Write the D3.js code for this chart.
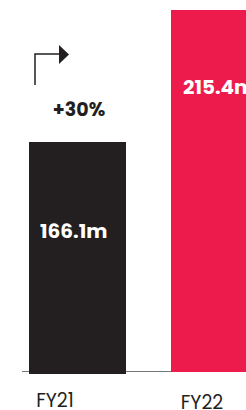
<!DOCTYPE html>
<html>
<head>
<meta charset="utf-8">
<script src="https://cdn.jsdelivr.net/npm/d3@7"></script>
<style>
  html, body { margin: 0; padding: 0; background: #fff; }
  svg { display: block; }
</style>
</head>
<body>
<script>
'use strict';

// data
const years = ["FY21", "FY22"];
const revenue = [166.1, 215.4];
const valueLabels = ["166.1m", "215.4m"];
const growthLabel = "+30%";
const barColors = ["#231f20", "#ec1b4b"];

const width = 246, height = 410;
const baseY = 372;

const svg = d3.select("body").append("svg")
    .attr("width", width)
    .attr("height", height);

// bars are not drawn from zero in the original, baseline sits around 80
const yScale = d3.scaleLinear()
    .domain([80.2, 215.4])
    .range([baseY, 10]);

const xScale = d3.scaleOrdinal()
    .domain(years)
    .range([29, 171]);

const barWidth = 97;

// axis line
svg.append("line")
    .attr("x1", 22).attr("x2", 246)
    .attr("y1", baseY - 0.5).attr("y2", baseY - 0.5)
    .attr("stroke", "#777")
    .attr("stroke-width", 1.2);

// bars
svg.selectAll("rect.bar")
    .data(revenue)
    .enter()
    .append("rect")
    .attr("class", "bar")
    .attr("x", (d, i) => xScale(years[i]))
    .attr("y", d => yScale(d))
    .attr("width", barWidth)
    .attr("height", (d, i) => baseY - yScale(d) + (i === 0 ? 2 : 0))
    .attr("fill", (d, i) => barColors[i]);

// value labels inside bars
const labelOffsets = [90, 78];
svg.selectAll("text.value")
    .data(revenue)
    .enter()
    .append("text")
    .attr("class", "value")
    .attr("x", (d, i) => xScale(years[i]) + (i === 0 ? 11 : 12))
    .attr("y", (d, i) => yScale(d) + labelOffsets[i] + 6)
    .attr("font-family", "Poppins, 'Open Sans', sans-serif")
    .attr("font-weight", 700)
    .attr("font-size", "20px")
    .attr("fill", "#fff")
    .text((d, i) => valueLabels[i]);

// category labels
const catPos = [[55, 407], [202, 409]];
svg.selectAll("text.cat")
    .data(years)
    .enter()
    .append("text")
    .attr("class", "cat")
    .attr("x", (d, i) => catPos[i][0])
    .attr("y", (d, i) => catPos[i][1])
    .attr("text-anchor", "middle")
    .attr("font-family", "Poppins, 'Open Sans', sans-serif")
    .attr("font-size", "19px")
    .attr("fill", "#231f20")
    .text(d => d);

// growth arrow
svg.append("path")
    .attr("d", "M35,85 V54 H60")
    .attr("fill", "none")
    .attr("stroke", "#231f20")
    .attr("stroke-width", 1.5);
svg.append("path")
    .attr("d", "M59,45 L69,54.5 L59,64 Z")
    .attr("fill", "#231f20");

svg.append("text")
    .attr("x", 79)
    .attr("y", 115.5)
    .attr("text-anchor", "middle")
    .attr("font-family", "Poppins, 'Open Sans', sans-serif")
    .attr("font-weight", 700)
    .attr("font-size", "19px")
    .attr("fill", "#231f20")
    .text(growthLabel);
</script>
</body>
</html>
